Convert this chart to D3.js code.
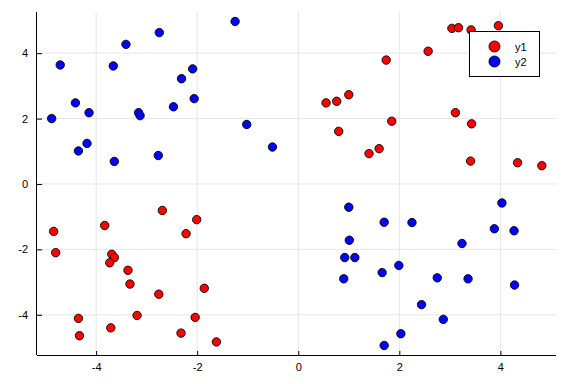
<!DOCTYPE html>
<html>
<head>
<meta charset="utf-8">
<script src="https://cdn.jsdelivr.net/npm/d3@7"></script>
<style>
  body { margin: 0; background: #fff; }
  svg text { font-family: "Liberation Sans", Arial, sans-serif; }
</style>
</head>
<body>
<div id="chart"></div>
<script>
// series values
var y1x = [3.04, 3.17, 3.42, 3.96, 2.57, 1.74, 0.55, 0.76, 1.00, 1.85, 0.80, 1.40, 1.60, 3.11, 3.43, 3.41, 4.34, 4.82,
           -4.84, -4.80, -3.83, -3.69, -3.64, -3.73, -3.37, -3.33, -2.69, -2.22, -2.01, -1.86, -2.76, -4.35, -4.33, -3.71, -3.19, -2.04, -2.32, -1.62];
var y1y = [4.76, 4.78, 4.71, 4.84, 4.06, 3.79, 2.48, 2.53, 2.73, 1.92, 1.61, 0.93, 1.08, 2.18, 1.84, 0.70, 0.65, 0.56,
           -1.45, -2.10, -1.27, -2.15, -2.25, -2.41, -2.64, -3.06, -0.81, -1.52, -1.09, -3.19, -3.37, -4.11, -4.64, -4.40, -4.02, -4.08, -4.56, -4.83];
var y2x = [-4.88, -4.71, -4.41, -4.14, -4.35, -4.18, -3.66, -3.64, -3.41, -3.16, -3.13, -2.75, -2.77, -2.47, -2.31, -2.09, -2.06, -1.25, -1.02, -0.51,
           1.00, 1.70, 2.25, 1.01, 0.92, 1.12, 0.90, 1.66, 1.99, 2.75, 3.36, 3.24, 3.88, 4.03, 4.27, 4.28, 2.44, 2.87, 2.03, 1.70];
var y2y = [2.00, 3.64, 2.48, 2.18, 1.01, 1.24, 3.61, 0.69, 4.27, 2.18, 2.09, 4.63, 0.87, 2.36, 3.22, 3.52, 2.61, 4.97, 1.82, 1.13,
           -0.71, -1.17, -1.18, -1.72, -2.25, -2.25, -2.90, -2.71, -2.49, -2.87, -2.90, -1.82, -1.37, -0.58, -1.43, -3.09, -3.69, -4.14, -4.58, -4.94];
var xTicks = [-4, -2, 0, 2, 4];
var yTicks = [-4, -2, 0, 2, 4];
var seriesNames = ['y1', 'y2'];
var seriesColors = ['#ff0000', '#0000ff'];

var width = 576, height = 384;
var margin = {top: 12, right: 20, bottom: 29, left: 37};

var svg = d3.select('#chart').append('svg')
    .attr('width', width)
    .attr('height', height);

var x = d3.scaleLinear()
    .domain([-5.17, 5.10])
    .range([margin.left, width - margin.right]);

var y = d3.scaleLinear()
    .domain([-5.23, 5.26])
    .range([height - margin.bottom, margin.top]);

// grid lines
var grid = svg.append('g').attr('class', 'grid');
grid.selectAll('.vgrid').data(xTicks).enter().append('line')
    .attr('x1', function(d) { return x(d); })
    .attr('x2', function(d) { return x(d); })
    .attr('y1', margin.top)
    .attr('y2', height - margin.bottom)
    .style('stroke', '#e6e6e6');
grid.selectAll('.hgrid').data(yTicks).enter().append('line')
    .attr('y1', function(d) { return y(d); })
    .attr('y2', function(d) { return y(d); })
    .attr('x1', margin.left)
    .attr('x2', width - margin.right)
    .style('stroke', '#e6e6e6');

var fmt = function(d) { return String(d); };

var xAxis = d3.axisBottom(x).tickValues(xTicks).tickFormat(fmt).tickSizeInner(-4).tickSizeOuter(0).tickPadding(8);
var yAxis = d3.axisLeft(y).tickValues(yTicks).tickFormat(fmt).tickSizeInner(-5).tickSizeOuter(0).tickPadding(9);

var gx = svg.append('g')
    .attr('transform', 'translate(0,' + (height - margin.bottom) + ')')
    .call(xAxis);
var gy = svg.append('g')
    .attr('transform', 'translate(' + margin.left + ',0)')
    .call(yAxis);

[gx, gy].forEach(function(g) {
    g.select('.domain').attr('d', null);
    g.selectAll('text').style('font-size', '11px').style('fill', '#000');
    g.selectAll('.tick line').style('stroke', '#000');
});
gx.select('.domain').attr('d', 'M' + margin.left + ',0.5H' + (width - margin.right)).style('stroke', '#000');
gy.select('.domain').attr('d', 'M-0.5,' + margin.top + 'V' + (height - margin.bottom)).style('stroke', '#000');

// points
var series = [
    {name: seriesNames[0], color: seriesColors[0], xs: y1x, ys: y1y},
    {name: seriesNames[1], color: seriesColors[1], xs: y2x, ys: y2y}
];

series.forEach(function(s) {
    svg.append('g').selectAll('circle')
        .data(s.xs.map(function(v, i) { return [v, s.ys[i]]; }))
        .enter().append('circle')
        .attr('cx', function(d) { return x(d[0]); })
        .attr('cy', function(d) { return y(d[1]); })
        .attr('r', 4.2)
        .style('fill', s.color)
        .style('stroke', '#000')
        .style('stroke-width', 0.9);
});

// legend
var legend = svg.append('g')
    .attr('transform', 'translate(469,31)');
legend.append('rect')
    .attr('x', 0.5).attr('y', 0.5)
    .attr('width', 70).attr('height', 45)
    .style('fill', '#fff')
    .style('stroke', '#000')
    .style('stroke-width', 1);
series.forEach(function(s, i) {
    var row = legend.append('g').attr('transform', 'translate(0,' + (15.5 + i * 15) + ')');
    row.append('circle')
        .attr('cx', 25.5).attr('cy', 0)
        .attr('r', 5.5)
        .style('fill', s.color)
        .style('stroke', '#000')
        .style('stroke-width', 0.9);
    row.append('text')
        .attr('x', 46).attr('y', 4)
        .style('font-size', '11px')
        .text(s.name);
});
</script>
</body>
</html>
